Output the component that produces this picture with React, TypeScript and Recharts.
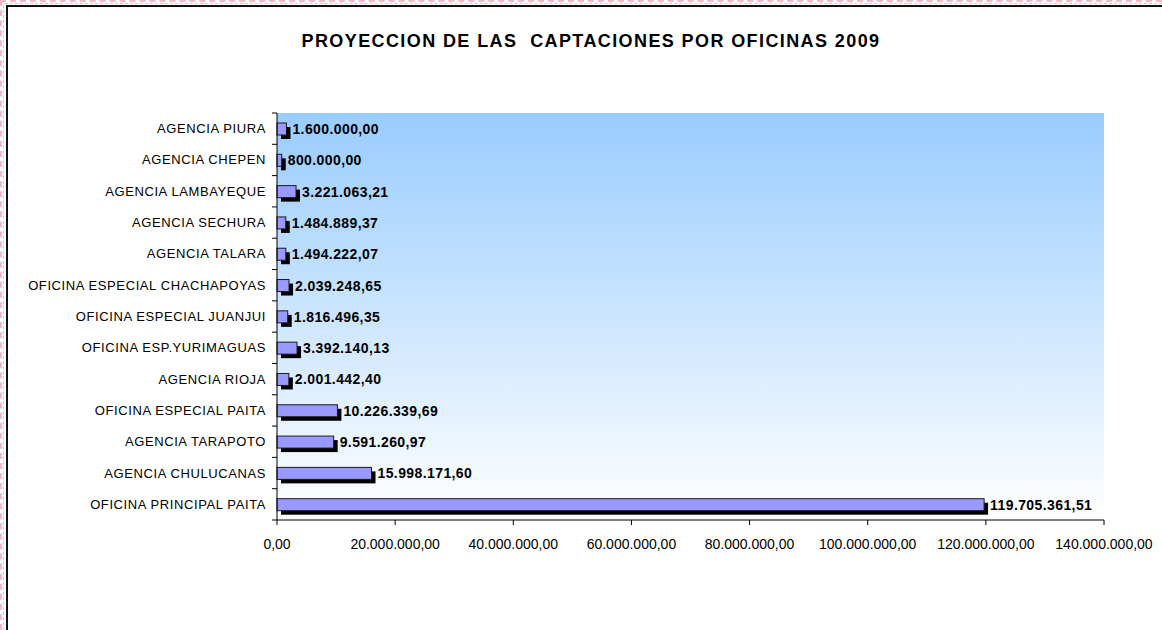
import { Bar, BarChart, CartesianGrid, LabelList, XAxis, YAxis } from "recharts";

const OFICINAS = [
  "AGENCIA PIURA",
  "AGENCIA CHEPEN",
  "AGENCIA LAMBAYEQUE",
  "AGENCIA SECHURA",
  "AGENCIA TALARA",
  "OFICINA ESPECIAL CHACHAPOYAS",
  "OFICINA ESPECIAL JUANJUI",
  "OFICINA ESP.YURIMAGUAS",
  "AGENCIA RIOJA",
  "OFICINA ESPECIAL PAITA",
  "AGENCIA TARAPOTO",
  "AGENCIA CHULUCANAS",
  "OFICINA PRINCIPAL PAITA",
];

const CAPTACIONES = [
  1600000.0, 800000.0, 3221063.21, 1484889.37, 1494222.07, 2039248.65,
  1816496.35, 3392140.13, 2001442.4, 10226339.69, 9591260.97, 15998171.6,
  119705361.51,
];

const X_TICKS = [0, 20000000, 40000000, 60000000, 80000000, 100000000, 120000000, 140000000];

const W = 1162;
const H = 630;
const PLOT_TOP = 113;
const PLOT_BOTTOM = 520;
const PLOT_LEFT = 277;
const PLOT_RIGHT = 1104;
const BAND = (PLOT_BOTTOM - PLOT_TOP) / OFICINAS.length;
const FONT = "'Liberation Sans', Arial, sans-serif";

const data = OFICINAS.map((name, i) => ({ name, value: CAPTACIONES[i] }));

function fmt(v: number): string {
  const [int, dec] = v.toFixed(2).split(".");
  return int.replace(/\B(?=(\d{3})+(?!\d))/g, ".") + "," + dec;
}

function ShadowBar(props: any) {
  const { x, y, width, height } = props;
  return (
    <g>
      <rect x={x + 4} y={y + 4} width={width} height={height} fill="#000" />
      <rect x={x} y={y} width={width} height={height} fill="#9999FF" stroke="#1a1a1a" strokeWidth={1} />
    </g>
  );
}

function CatTick(props: any) {
  const { x, y, payload, index } = props;
  const axisX = x + 11;
  const last = index === OFICINAS.length - 1;
  return (
    <g>
      <line x1={axisX - 5} x2={axisX} y1={y - BAND / 2} y2={y - BAND / 2} stroke="#000" />
      {last && <line x1={axisX - 5} x2={axisX} y1={y + BAND / 2} y2={y + BAND / 2} stroke="#000" />}
      <text x={x} y={y + 4.5} textAnchor="end" fontSize={13} letterSpacing={0.6} fontFamily={FONT} fill="#000">
        {payload.value}
      </text>
    </g>
  );
}

function ValueLabel(props: any) {
  const { x, y, width, height, value } = props;
  return (
    <text
      x={x + width + 6}
      y={y + height / 2 + 5}
      fontSize={14}
      letterSpacing={0.4}
      fontWeight="bold"
      fontFamily={FONT}
      fill="#000"
    >
      {fmt(value)}
    </text>
  );
}

export default function App() {
  return (
    <div style={{ position: "absolute", left: 0, top: 0, width: W, height: H, overflow: "hidden", background: "#fff" }}>
      {/* page break dots */}
      <div style={{ position: "absolute", left: 0, top: 0, width: 1, height: H, borderLeft: "2px dashed #f4b8c4" }} />
      <div style={{ position: "absolute", left: 3, top: 0, width: 1, height: H, borderLeft: "1px dashed #f4b8c4" }} />
      <div style={{ position: "absolute", left: 0, top: 0, width: W, height: 1, borderTop: "2px dashed #f4b8c4" }} />
      <div style={{ position: "absolute", left: 0, top: 3, width: W, height: 1, borderTop: "1px dashed #f4b8c4" }} />
      {/* chart frame */}
      <div style={{ position: "absolute", left: 6, top: 5, width: W + 20, height: H + 20, border: "2px solid #111" }} />
      <div
        style={{
          position: "absolute", left: 0, width: 1182, top: 31, textAlign: "center",
          fontFamily: FONT, fontWeight: "bold", fontSize: 18, letterSpacing: 1.4,
          whiteSpace: "pre", color: "#000",
        }}
      >
        PROYECCION DE LAS  CAPTACIONES POR OFICINAS 2009
      </div>
      <div style={{ position: "absolute", left: 0, top: 0 }}>
        <BarChart
          width={W}
          height={H}
          data={data}
          layout="vertical"
          margin={{ top: PLOT_TOP, right: W - PLOT_RIGHT, left: 0, bottom: H - PLOT_BOTTOM - 40 }}
          barSize={12}
        >
          <defs>
            <linearGradient id="plotBg" x1="0" y1="0" x2="0" y2="1">
              <stop offset="0%" stopColor="#99CCFF" />
              <stop offset="100%" stopColor="#FFFFFF" />
            </linearGradient>
          </defs>
          <CartesianGrid horizontal={false} vertical={false} fill="url(#plotBg)" fillOpacity={1} />
          <XAxis
            type="number"
            domain={[0, 140000000]}
            ticks={X_TICKS}
            tickFormatter={fmt}
            height={40}
            interval={0}
            tickSize={5}
            tickMargin={14}
            stroke="#000"
            tick={{ fill: "#000", fontSize: 14, fontFamily: FONT }}
          />
          <YAxis
            type="category"
            dataKey="name"
            width={PLOT_LEFT}
            interval={0}
            tickSize={0}
            tickMargin={11}
            stroke="#000"
            tick={<CatTick />}
          />
          <Bar dataKey="value" shape={<ShadowBar />} isAnimationActive={false}>
            <LabelList dataKey="value" content={<ValueLabel />} />
          </Bar>
        </BarChart>
      </div>
    </div>
  );
}
